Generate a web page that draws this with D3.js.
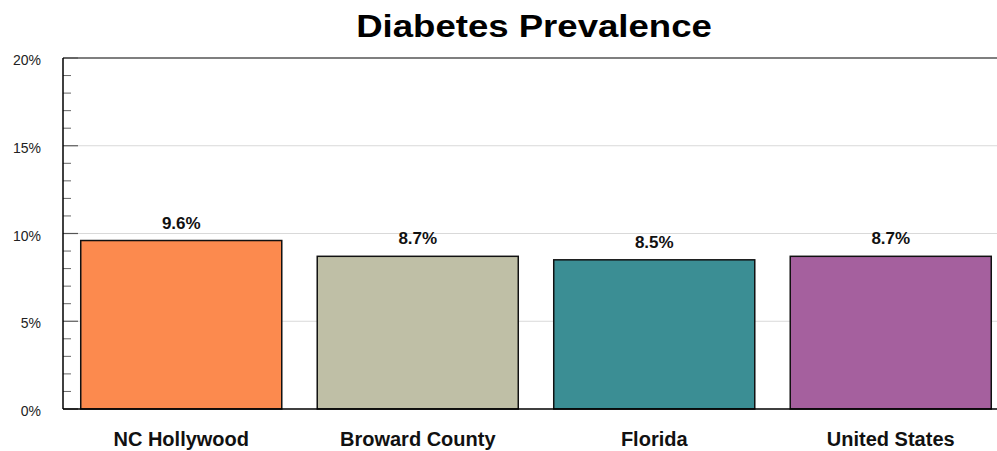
<!DOCTYPE html>
<html>
<head>
<meta charset="utf-8">
<script src="https://cdn.jsdelivr.net/npm/d3@7"></script>
<style>
  html, body { margin: 0; padding: 0; background: #fff; }
  svg { display: block; font-family: "Liberation Sans", Arial, sans-serif; }
</style>
</head>
<body>
<svg id="chart" width="997" height="451"></svg>
<script>
const categories = ["NC Hollywood", "Broward County", "Florida", "United States"];
const values = [9.6, 8.7, 8.5, 8.7];
const colors = ["#FC8A4E", "#BFBFA6", "#3B8E94", "#A5609E"];
const majorTicks = [0, 5, 10, 15, 20];
const minorTicks = [1,2,3,4,6,7,8,9,11,12,13,14,16,17,18,19];
const title = "Diabetes Prevalence";

(function () {
const svg = d3.select("#chart");
const pLeft = 63, pTop = 58, pBottom = 409, pRight = 997;

const y = d3.scaleLinear().domain([0, 20]).range([pBottom, pTop]);
const x = d3.scaleBand().domain(categories).range([pLeft, 1009])
  .paddingInner(0.15).paddingOuter(0.075);

// gridlines
svg.append("g").selectAll("line").data([5, 10, 15]).join("line")
  .attr("x1", pLeft + 15).attr("x2", pRight)
  .attr("y1", d => y(d)).attr("y2", d => y(d))
  .attr("stroke", "#d9d9d9").attr("stroke-width", 1);

// top border
svg.append("line").attr("x1", pLeft).attr("x2", pRight)
  .attr("y1", y(20)).attr("y2", y(20)).attr("stroke", "#000").attr("stroke-width", 1.2);

// minor ticks
svg.append("g").selectAll("line").data(minorTicks).join("line")
  .attr("x1", pLeft).attr("x2", pLeft + 8)
  .attr("y1", d => y(d)).attr("y2", d => y(d))
  .attr("stroke", "#666").attr("stroke-width", 1);

// major ticks
svg.append("g").selectAll("line").data(majorTicks).join("line")
  .attr("x1", pLeft).attr("x2", pLeft + 15)
  .attr("y1", d => y(d)).attr("y2", d => y(d))
  .attr("stroke", "#555").attr("stroke-width", 1.2);

// y labels
svg.append("g").selectAll("text").data(majorTicks).join("text")
  .attr("x", 41).attr("y", d => y(d) + 7)
  .attr("text-anchor", "end").attr("font-size", 14).attr("fill", "#222")
  .text(d => d + "%");

// bars
svg.append("g").selectAll("rect").data(values).join("rect")
  .attr("x", (d, i) => x(categories[i]))
  .attr("width", x.bandwidth())
  .attr("y", d => y(d))
  .attr("height", d => y(0) - y(d))
  .attr("fill", (d, i) => colors[i])
  .attr("stroke", "#111").attr("stroke-width", 1.5);

// value labels
svg.append("g").selectAll("text").data(values).join("text")
  .attr("x", (d, i) => x(categories[i]) + x.bandwidth() / 2)
  .attr("y", d => y(d) - 12)
  .attr("text-anchor", "middle").attr("font-size", 17).attr("font-weight", "bold")
  .attr("fill", "#111")
  .text(d => d.toFixed(1) + "%");

// axis lines
svg.append("line").attr("x1", pLeft).attr("x2", pLeft)
  .attr("y1", pTop).attr("y2", pBottom).attr("stroke", "#000").attr("stroke-width", 1.5);
svg.append("line").attr("x1", pLeft).attr("x2", pRight)
  .attr("y1", pBottom).attr("y2", pBottom).attr("stroke", "#000").attr("stroke-width", 1.5);

// x labels
svg.append("g").selectAll("text").data(categories).join("text")
  .attr("x", d => x(d) + x.bandwidth() / 2)
  .attr("y", 446)
  .attr("text-anchor", "middle").attr("font-size", 20).attr("font-weight", "bold")
  .attr("fill", "#111")
  .text(d => d);

// title (slightly stretched horizontally)
svg.append("text")
  .attr("transform", "translate(534,37) scale(1.18,1)")
  .attr("text-anchor", "middle").attr("font-size", 31).attr("font-weight", "bold")
  .attr("fill", "#000")
  .text(title);
})();
</script>
</body>
</html>
